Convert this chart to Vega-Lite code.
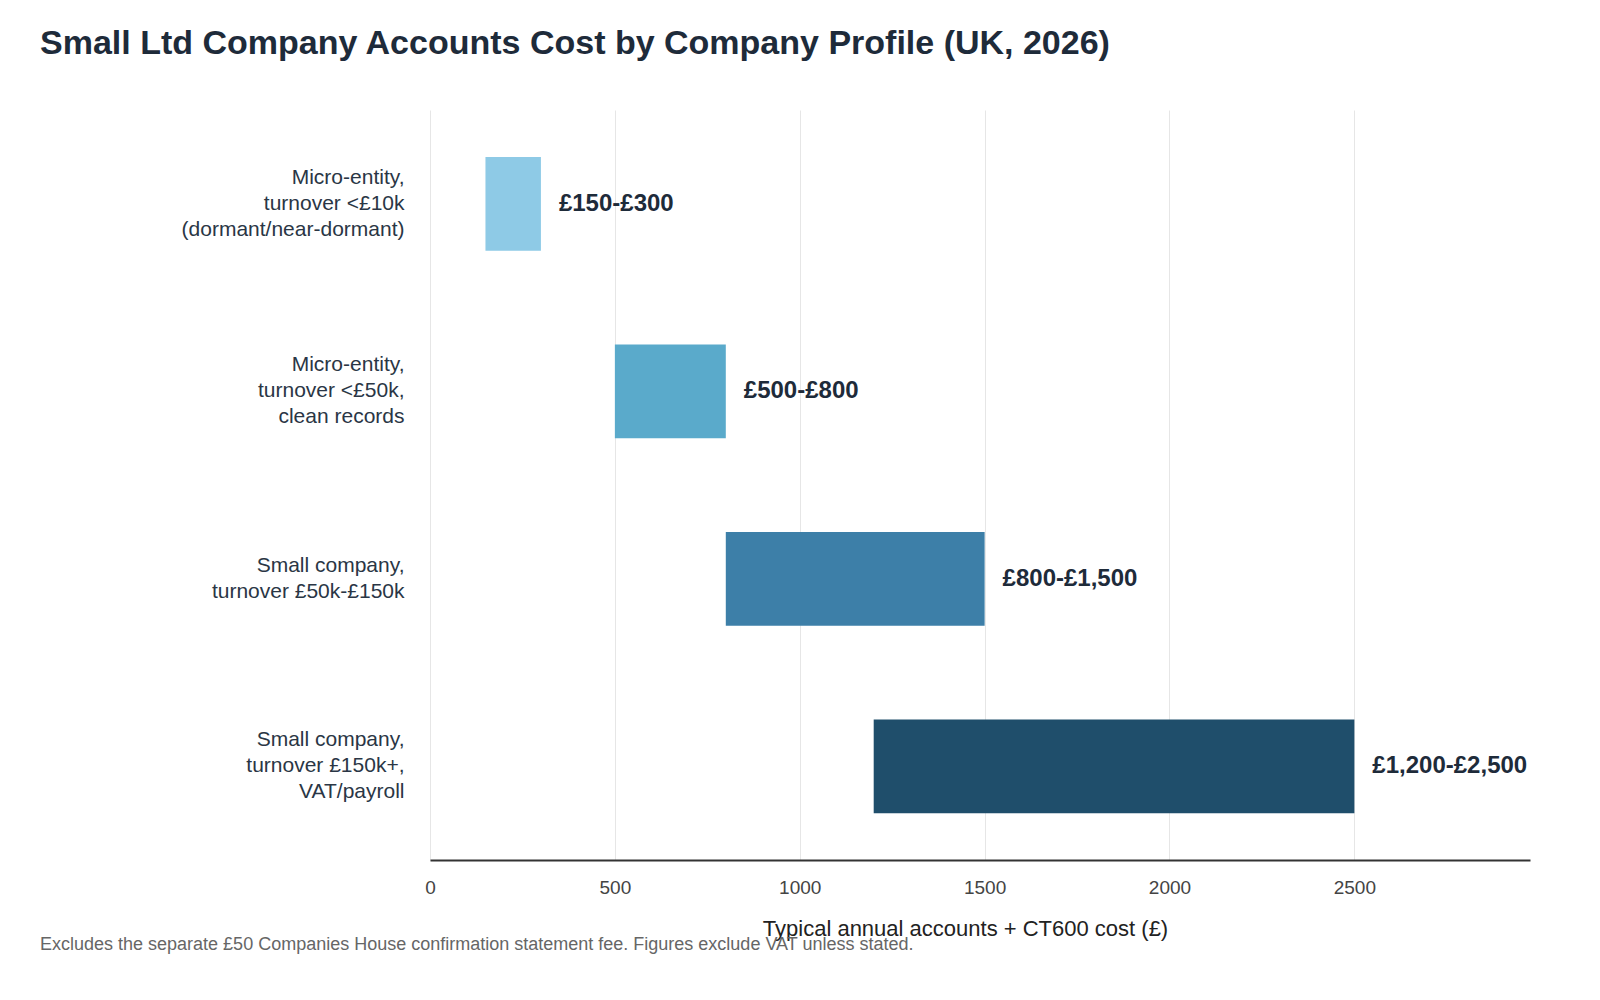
{
  "$schema": "https://vega.github.io/schema/vega-lite/v6.json",
  "description": "Small Ltd company accounts cost ranges by company profile",
  "padding": {"left": 40, "top": 27, "right": 40, "bottom": 10},
  "background": "white",
  "title": {
    "text": "Small Ltd Company Accounts Cost by Company Profile (UK, 2026)",
    "fontSize": 34,
    "fontWeight": "bold",
    "font": "Liberation Sans",
    "color": "#1e2b3a",
    "anchor": "start",
    "frame": "bounds",
    "offset": 49
  },
  "config": {
    "view": {"stroke": null},
    "font": "Liberation Sans"
  },
  "vconcat": [
    {
      "width": 1100,
      "height": 750,
      "title": {
        "text": "Excludes the separate £50 Companies House confirmation statement fee. Figures exclude VAT unless stated.",
        "orient": "bottom",
        "anchor": "start",
        "frame": "bounds",
        "fontSize": 18,
        "fontWeight": "normal",
        "color": "#666666",
        "offset": -3
      },
      "data": {
        "values": [
          {"profile": "Micro-entity,\nturnover <£10k\n(dormant/near-dormant)", "low": 150, "high": 300, "label": "£150-£300"},
          {"profile": "Micro-entity,\nturnover <£50k,\nclean records", "low": 500, "high": 800, "label": "£500-£800"},
          {"profile": "Small company,\nturnover £50k-£150k", "low": 800, "high": 1500, "label": "£800-£1,500"},
          {"profile": "Small company,\nturnover £150k+,\nVAT/payroll", "low": 1200, "high": 2500, "label": "£1,200-£2,500"}
        ]
      },
      "encoding": {
        "y": {
          "field": "profile",
          "type": "nominal",
          "sort": null,
          "title": null,
          "scale": {"paddingInner": 0.5, "paddingOuter": 0.25},
          "axis": {
            "domain": false,
            "ticks": false,
            "grid": false,
            "labelFontSize": 21,
            "labelColor": "#2a3645",
            "labelPadding": 26,
            "labelLineHeight": 26,
            "labelLimit": 400,
            "minExtent": 390,
            "maxExtent": 390,
            "labelOffset": {"expr": "-13 * (length(split(datum.value, '\\n')) - 1)"},
            "labelExpr": "split(datum.label, '\\n')"
          }
        }
      },
      "layer": [
        {
          "mark": {"type": "bar"},
          "encoding": {
            "x": {
              "field": "low",
              "type": "quantitative",
              "title": "Typical annual accounts + CT600 cost (£)",
              "scale": {"domain": [0, 2975], "nice": false},
              "axis": {
                "values": [0, 500, 1000, 1500, 2000, 2500],
                "format": "d",
                "ticks": false,
                "labelFlush": false,
                "domainColor": "#333333",
                "domainWidth": 2,
                "gridColor": "#e6e6e6",
                "gridWidth": 1,
                "labelFontSize": 19,
                "labelColor": "#444444",
                "labelPadding": 18,
                "titleFontSize": 22,
                "titleFontWeight": "normal",
                "titleColor": "#222222",
                "titlePadding": 21,
                "titleX": 535
              }
            },
            "x2": {"field": "high"},
            "color": {
              "field": "profile",
              "type": "nominal",
              "sort": null,
              "legend": null,
              "scale": {"range": ["#8ecae6", "#5aaacb", "#3d7fa8", "#1f4e6b"]}
            }
          }
        },
        {
          "mark": {
            "type": "text",
            "align": "left",
            "baseline": "middle",
            "dx": 18,
            "fontSize": 24,
            "fontWeight": "bold",
            "color": "#1e2b3a"
          },
          "encoding": {
            "x": {"field": "high", "type": "quantitative"},
            "text": {"field": "label"}
          }
        }
      ]
    }
  ]
}
